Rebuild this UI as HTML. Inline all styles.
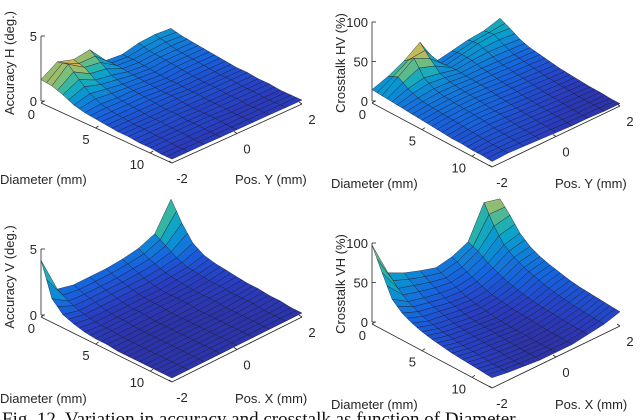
<!DOCTYPE html>
<html><head><meta charset="utf-8"><style>
html,body{margin:0;padding:0;background:#fff;}
svg{display:block;}
text{font-family:"Liberation Sans",Arial,sans-serif;font-size:13px;fill:#262626;}
.cap{font-family:"Liberation Serif",serif;font-size:19px;fill:#111;}
</style></head><body>
<svg id="chart" width="640" height="420" viewBox="0 0 640 420"></svg>
<script>
const diameters=[0,1,2,3,4,5,6,7,8,9,10,11,12];
const positions=[-2,-1.5,-1,-0.5,0,0.5,1,1.5,2];
const accH=[
[1.8,2.6,2.2,2.4,1.0,0.9,1.2,1.3,1.2],
[1.7,2.8,2.0,1.8,1.0,0.9,1.0,1.1,1.0],
[1.4,2.0,1.4,1.2,0.9,0.8,0.9,0.9,0.9],
[1.0,1.3,1.1,0.9,0.8,0.7,0.8,0.8,0.8],
[0.8,0.9,0.8,0.8,0.7,0.6,0.7,0.7,0.7],
[0.7,0.7,0.7,0.7,0.6,0.6,0.6,0.6,0.6],
[0.6,0.6,0.6,0.6,0.6,0.5,0.5,0.5,0.5],
[0.5,0.5,0.5,0.5,0.5,0.5,0.5,0.5,0.5],
[0.5,0.5,0.5,0.5,0.4,0.4,0.4,0.4,0.4],
[0.4,0.4,0.4,0.4,0.4,0.4,0.4,0.4,0.4],
[0.4,0.4,0.4,0.4,0.4,0.3,0.3,0.3,0.3],
[0.3,0.3,0.3,0.3,0.3,0.3,0.3,0.3,0.3],
[0.3,0.3,0.3,0.3,0.3,0.3,0.3,0.3,0.3]];
const xtalkHV=[
[17,24,34,48,14,18,22,24,30],
[16,30,44,34,16,20,24,26,24],
[15,22,26,22,17,19,20,19,17],
[14,17,19,18,16,16,15,14,13],
[13,15,16,16,15,14,13,12,11],
[12,14,15,15,14,12,11,10,9],
[11,13,14,14,12,11,10,8,7],
[10,12,13,12,11,9,8,7,6],
[9,11,12,11,9,8,7,6,5],
[9,10,10,9,8,7,6,5,4],
[8,9,9,8,7,6,5,4,4],
[8,8,8,7,6,5,4,4,3],
[7,8,7,6,5,4,4,3,3]];
const accV=[
[4.3,1.5,1.2,1.2,1.2,1.3,1.5,2.0,4.0],
[1.8,1.0,0.9,0.9,0.9,1.0,1.1,1.5,2.6],
[1.0,0.7,0.7,0.7,0.7,0.7,0.8,1.0,1.5],
[0.7,0.5,0.5,0.5,0.5,0.5,0.6,0.7,1.0],
[0.5,0.4,0.4,0.4,0.4,0.4,0.5,0.6,0.8],
[0.4,0.4,0.4,0.4,0.4,0.4,0.4,0.5,0.7],
[0.4,0.3,0.3,0.3,0.3,0.4,0.4,0.5,0.6],
[0.3,0.3,0.3,0.3,0.3,0.3,0.4,0.4,0.5],
[0.3,0.3,0.3,0.3,0.3,0.3,0.3,0.4,0.5],
[0.3,0.3,0.3,0.3,0.3,0.3,0.3,0.4,0.4],
[0.3,0.3,0.3,0.3,0.3,0.3,0.3,0.3,0.4],
[0.3,0.3,0.3,0.3,0.3,0.3,0.3,0.3,0.3],
[0.3,0.3,0.3,0.3,0.3,0.3,0.3,0.3,0.3]];
const xtalkVH=[
[100,55,45,38,32,36,45,85,80],
[72,42,36,30,26,30,40,62,66],
[45,32,27,23,21,24,32,45,50],
[34,26,22,18,16,19,26,36,40],
[28,21,18,15,13,15,21,30,34],
[24,18,15,12,11,13,18,26,30],
[21,16,13,11,9,11,15,22,27],
[19,14,12,10,8,10,13,19,24],
[17,13,11,9,7,9,12,17,22],
[16,12,10,8,7,8,11,15,21],
[15,11,9,7,6,7,10,14,20],
[14,10,8,7,6,7,9,13,19],
[13,10,8,6,6,6,9,12,18]];
const zTicksAcc=[0,5];
const zTicksXt=[0,50,100];
const dTicks=[0,5,10];
const pTicks=[-2,0,2];

const panels=[
 {name:'accuracy-h',data:accH,O:[41,103],D:[131,60],P:[130,-59],zs:13,zt:zTicksAcc,zl:'Accuracy H (deg.)',pl:'Pos. Y (mm)'},
 {name:'crosstalk-hv',data:xtalkHV,O:[372,103],D:[120,64],P:[128,-61],zs:0.79,zt:zTicksXt,zl:'Crosstalk HV (%)',pl:'Pos. Y (mm)'},
 {name:'accuracy-v',data:accV,O:[41,317],D:[131,65],P:[130,-65],zs:13.2,zt:zTicksAcc,zl:'Accuracy V (deg.)',pl:'Pos. X (mm)'},
 {name:'crosstalk-vh',data:xtalkVH,O:[372,324],D:[120,64],P:[128,-62],zs:0.79,zt:zTicksXt,zl:'Crosstalk VH (%)',pl:'Pos. X (mm)'}
];
const stops=[[50,40,140],[40,62,195],[22,98,222],[16,130,215],[8,160,205],[40,180,170],[120,190,125],[220,185,80],[249,251,14]];
function parula(t){t=Math.max(0,Math.min(1,t));const f=t*8,i=Math.min(7,Math.floor(f)),r=f-i;const a=stops[i],b=stops[i+1];
 return 'rgb('+a.map((v,k)=>Math.round(v+(b[k]-v)*r)).join(',')+')';}
const NS='http://www.w3.org/2000/svg';
const svg=document.getElementById('chart');
function mk(tag,attrs,parent){const e=document.createElementNS(NS,tag);for(const k in attrs)e.setAttribute(k,attrs[k]);(parent||svg).appendChild(e);return e;}
const dMax=diameters[diameters.length-1],pMin=positions[0],pMax=positions[positions.length-1];
const SUB=2;
panels.forEach(pn=>{
 const g=mk('g',{});
 
 
 const proj=(d,p,z)=>{const u=d/dMax,v=(p-pMin)/(pMax-pMin);return [pn.O[0]+u*pn.D[0]+v*pn.P[0],pn.O[1]+u*pn.D[1]+v*pn.P[1]-z*pn.zs];};
 const zTop=pn.zt[pn.zt.length-1];
 const za=mk('line',{x1:pn.O[0],y1:pn.O[1]-2,x2:pn.O[0],y2:pn.O[1]-2-zTop*pn.zs,stroke:'#262626','stroke-width':0.8},g);
 
 pn.zt.forEach(t=>{const y=pn.O[1]-2-t*pn.zs;mk('line',{x1:pn.O[0],y1:y,x2:pn.O[0]+4,y2:y,stroke:'#262626','stroke-width':0.8},g);
  const tx=mk('text',{x:pn.O[0]-4,y:y+5,'text-anchor':'end'},g);tx.textContent=t;
  });
 const a0=proj(0,pMin,0),a1=proj(dMax,pMin,0),a2=proj(dMax,pMax,0);
 const da=mk('line',{x1:a0[0],y1:a0[1],x2:a1[0],y2:a1[1],stroke:'#262626','stroke-width':0.8},g);
 
 const pa=mk('line',{x1:a1[0],y1:a1[1],x2:a2[0],y2:a2[1],stroke:'#262626','stroke-width':0.8},g);
 
 dTicks.forEach(t=>{const q=proj(t,pMin,0);mk('line',{x1:q[0],y1:q[1],x2:q[0]+3,y2:q[1]-2,stroke:'#262626','stroke-width':0.8},g);
  const tx=mk('text',{x:q[0]-6,y:q[1]+16,'text-anchor':'end'},g);tx.textContent=t;
  });
 pTicks.forEach(t=>{const q=proj(dMax,t,0);mk('line',{x1:q[0],y1:q[1],x2:q[0]-3,y2:q[1]-2,stroke:'#262626','stroke-width':0.8},g);
  const tx=mk('text',{x:q[0]+10,y:q[1]+20,'text-anchor':'middle'},g);tx.textContent=t;
  });
 const dl=mk('text',{x:pn.O[0]-41,y:a1[1]+21},g);dl.textContent='Diameter (mm)';
 
 const pl=mk('text',{x:a1[0]+63,y:a1[1]+21},g);pl.textContent=pn.pl;
 
 const zx=pn.O[0]-27,zy=pn.O[1]-40;
 const zl=mk('text',{x:zx,y:zy,transform:'rotate(-90 '+zx+' '+zy+')','text-anchor':'middle'},g);zl.textContent=pn.zl;
 
 let mx=-Infinity;pn.data.forEach(r=>r.forEach(v=>{mx=Math.max(mx,v);}));
 const mn=0;
 const Z=pn.data;
 const nD=diameters.length-1, nP=positions.length-1;
 const zAt=(fi,j)=>{const i0=Math.floor(fi),i1=Math.min(nD,i0+1),r=fi-i0;return Z[i0][j]*(1-r)+Z[i1][j]*r;};
 const dAt=fi=>{const i0=Math.floor(fi),i1=Math.min(nD,i0+1),r=fi-i0;return diameters[i0]*(1-r)+diameters[i1]*r;};
 const quads=[];
 for(let s=0;s<nD*SUB;s++)for(let j=0;j<nP;j++){
  quads.push({a:s/SUB,b:(s+1)/SUB,j,key:(s/SUB)/nD+(nP-1-j)/nP});}
 quads.sort((x,y)=>x.key-y.key);
 const sg=mk('g',{},g);
 
 quads.forEach(q=>{const {a,b,j}=q;
  const c=[[a,j],[b,j],[b,j+1],[a,j+1]];
  const zs=c.map(([fi,jj])=>zAt(fi,jj));
  const pts=c.map(([fi,jj],k)=>proj(dAt(fi),positions[jj],zs[k]));
  const avg=(zs[0]+zs[1]+zs[2]+zs[3])/4;
  const poly=mk('polygon',{points:pts.map(p=>p[0].toFixed(1)+','+p[1].toFixed(1)).join(' '),fill:parula((avg-mn)/(mx-mn)),stroke:'#1a1a2a','stroke-width':0.5,'stroke-opacity':0.8},sg);
  
  });
});
const cap=mk('text',{x:2,y:425,class:'cap'});cap.textContent='Fig. 12. Variation in accuracy and crosstalk as function of Diameter';

</script>
</body></html>
